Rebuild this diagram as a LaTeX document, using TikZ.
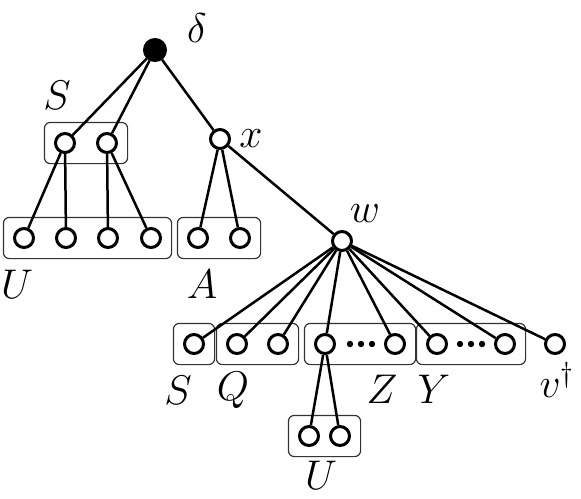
\documentclass[tikz,border=0pt]{standalone}
\usepackage{amsmath, amssymb}
\usepackage{tikz}
\usetikzlibrary{fit,calc,positioning}

\begin{document}
\begin{tikzpicture}[x=0.5pt, y=-0.5pt,
    vtx/.style={circle, draw, line width=1.5pt, fill=white, inner sep=0pt, minimum size=9.5pt},
    root/.style={vtx, fill=black, minimum size=10.5pt},
    grp/.style={draw=black!80, line width=0.6pt, rounded corners=3pt, inner sep=4.8pt},
    lbl/.style={inner sep=0pt, font=\fontsize{22}{26}\selectfont},
    edge/.style={line width=1.25pt}]
            \useasboundingbox (0,0) rectangle (581,498);
            % Define the vertices
            \node[root] (r) at (155,50) {};
            \node[vtx] (s1) at (65,143) {};
            \node[vtx] (s2) at (107,143) {};
            \node[vtx] (x) at (220,139) {};
            \node[vtx] (u1) at (24,238) {};
            \node[vtx] (u2) at (66,238) {};
            \node[vtx] (u3) at (108,238) {};
            \node[vtx] (u4) at (151,238) {};
            \node[vtx] (a1) at (198,238) {};
            \node[vtx] (a2) at (240,238) {};
            \node[vtx] (w) at (342,241) {};
            \node[vtx] (bs) at (194,344) {};
            \node[vtx] (q1) at (237,344) {};
            \node[vtx] (q2) at (278,344) {};
            \node[vtx] (z1) at (325,344) {};
            \node[vtx] (z2) at (395,344) {};
            \node[vtx] (y1) at (437,344) {};
            \node[vtx] (y2) at (505,344) {};
            \node[vtx] (v) at (555,344) {};
            \node[vtx] (bu1) at (309,436) {};
            \node[vtx] (bu2) at (340,436) {};
            % Draw the groups
            \node[grp, fit=(s1)(s2)] (sbox) {};
            \node[grp, fit=(u1)(u4)] (ubox) {};
            \node[grp, fit=(a1)(a2)] (abox) {};
            \node[grp, fit=(bs)] (bsbox) {};
            \node[grp, fit=(q1)(q2)] (qbox) {};
            \node[grp, fit=(z1)(z2)] (zbox) {};
            \node[grp, fit=(y1)(y2)] (ybox) {};
            \node[grp, fit=(bu1)(bu2)] (bubox) {};
            % Draw the edges
            \foreach \a/\b in {r/s1, r/s2, r/x, s1/u1, s1/u2, s2/u3, s2/u4, x/a1, x/a2, x/w, z1/bu1, z1/bu2}
              \draw[edge] (\a) -- (\b);
            \foreach \b in {bs, q1, q2, z1, z2, y1, y2, v}
              \draw[edge] (w) -- (\b);
            % Mark the dots
            \foreach \d in {350, 361, 372, 460, 471, 482}
              \fill (\d,344) circle (1.6pt);
            % Label the vertices and groups
            \node[lbl] (ldelta) at (197,28) {$\delta$};
            \node[lbl] (lx) at (251,139) {$x$};
            \node[lbl] (lw) at (365,214) {$w$};
            \node[lbl] (ls) at (57,95) {$S$};
            \node[lbl] (lu) at (17,284) {$U$};
            \node[lbl] (la) at (202,284) {$A$};
            \node[lbl] (lbs) at (178,390) {$S$};
            \node[lbl] (lq) at (233,390) {$Q$};
            \node[lbl] (lz) at (382,389) {$Z$};
            \node[lbl] (ly) at (434,389) {$Y$};
            \node[lbl] (lv) at (557,380) {$v^{\text{\Large$\dagger$}}$};
            \node[lbl] (lbu) at (321,475) {$U$};
          \end{tikzpicture}
\end{document}
